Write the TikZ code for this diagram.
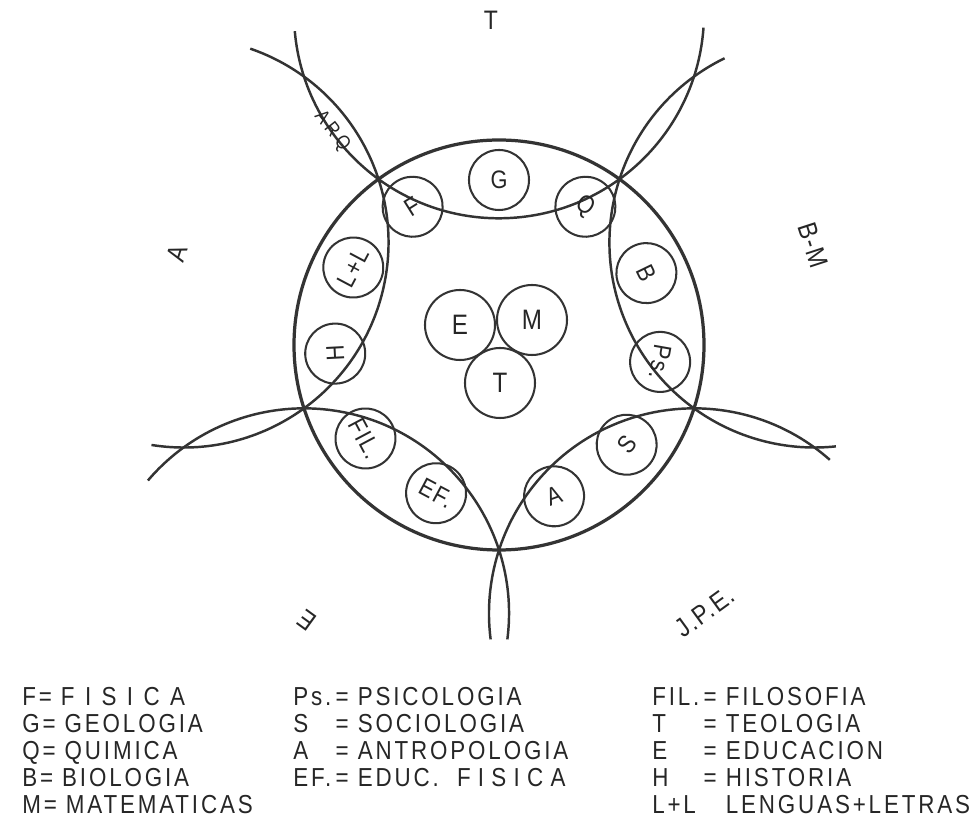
\documentclass[tikz,border=0pt]{standalone}
\usepackage{fontspec}
\setmainfont{Liberation Sans}[LetterSpace=6, FakeStretch=0.86]

\begin{document}
\begin{tikzpicture}[
				x=0.025cm, y=0.025cm, line join=round,
				ring/.style={draw=black!80, line width=2.3pt},
				lens/.style={draw=black!80, line width=1.75pt},
				subj/.style={circle, draw=black!80, line width=1.45pt, minimum size=1.5cm,
					inner sep=0pt, text=black!85, font=\fontsize{18}{18}\selectfont},
				core/.style={circle, draw=black!80, line width=1.45pt, minimum size=1.75cm,
					inner sep=0pt, text=black!85, font=\fontsize{20}{20}\selectfont},
				field/.style={text=black!85, font=\fontsize{19}{19}\selectfont},
				key/.style={anchor=north west, inner sep=0pt, text=black!85,
					font=\fontsize{18.5}{19.2}\selectfont\addfontfeature{LetterSpace=11}}
				]
				\useasboundingbox (-499,-487) rectangle (479,345);
				\coordinate (o) at (0,0);
				\coordinate (cT) at (90:331.7);
				\coordinate (cBM) at (18:331.7);
				\coordinate (cJPE) at (-54:331.7);
				\coordinate (cE) at (-126:331.7);
				\coordinate (cA) at (162:331.7);
				\draw[ring] (o) circle[radius=205];
				\draw[lens] ([shift={(-175:205)}]cT) arc[start angle=-175, end angle=-4, radius=205];
				\draw[lens] ([shift={(116:205)}]cBM) arc[start angle=116, end angle=276, radius=205];
				\draw[lens] ([shift={(48.5:205)}]cJPE) arc[start angle=48.5, end angle=187.3, radius=205];
				\draw[lens] ([shift={(-7.3:205)}]cE) arc[start angle=-7.3, end angle=139.6, radius=205];
				\draw[lens] ([shift={(-99:205)}]cA) arc[start angle=-99, end angle=71, radius=205];
				\node[subj] (G) at (90:165) {G};
				\node[subj, rotate=32] (F) at (122:163) {F};
				\node[subj, rotate=-32] (Q) at (58:163) {Q};
				\node[subj, rotate=-64] (B) at (26:164) {B};
				\node[subj, rotate=-100] (Ps) at (-6:162) {Ps.};
				\node[subj, rotate=52] (S) at (-38:162) {S};
				\node[subj, rotate=20] (A) at (-70:161) {A};
				\node[subj, rotate=-28] (EF) at (247:161) {EF.};
				\node[subj, rotate=-62] (FIL) at (215:163) {FIL.};
				\node[subj, rotate=93] (H) at (183:164) {H};
				\node[subj, rotate=62] (LL) at (152:165) {L+L};
				\node[core] (E) at (-39,20) {E};
				\node[core] (M) at (33,25) {M};
				\node[core] (T) at (1,-38) {T};
				\node[field] (fT) at (-8,325) {T};
				\node[field, rotate=-72] (fBM) at (314,100) {B-M};
				\node[field, rotate=72] (fA) at (-322,92) {A};
				\node[field, rotate=144] (fE) at (-192,-275) {E};
				\node[field, rotate=36] (fJPE) at (206,-267) {J.P.E.};
				\node[field, rotate=-52, font=\fontsize{14}{14}\selectfont\addfontfeature{LetterSpace=22}] (arq) at (-167,214) {ARQ};
				\node[key] (keyL) at (-477,-341) {\begin{tabular}{@{}l@{}}
						F= {\addfontfeature{LetterSpace=40}FISICA}\\ G= GEOLOGIA\\ Q= QUIMICA\\ B= BIOLOGIA\\ M= MATEMATICAS
					\end{tabular}};
				\node[key] (keyM) at (-206,-341) {\begin{tabular}{@{}l@{\,}l@{}}
						Ps. & = PSICOLOGIA\\ S & = SOCIOLOGIA\\ A & = ANTROPOLOGIA\\ EF. & = EDUC.\ \ {\addfontfeature{LetterSpace=28}FISICA}
					\end{tabular}};
				\node[key] (keyR) at (153,-341) {\begin{tabular}{@{}l@{\,}l@{}}
						FIL. & = FILOSOFIA\\ T & = TEOLOGIA\\ E & = EDUCACION\\ H & = HISTORIA\\ L+L & \phantom{=} LENGUAS+LETRAS
					\end{tabular}};
			\end{tikzpicture}
\end{document}
